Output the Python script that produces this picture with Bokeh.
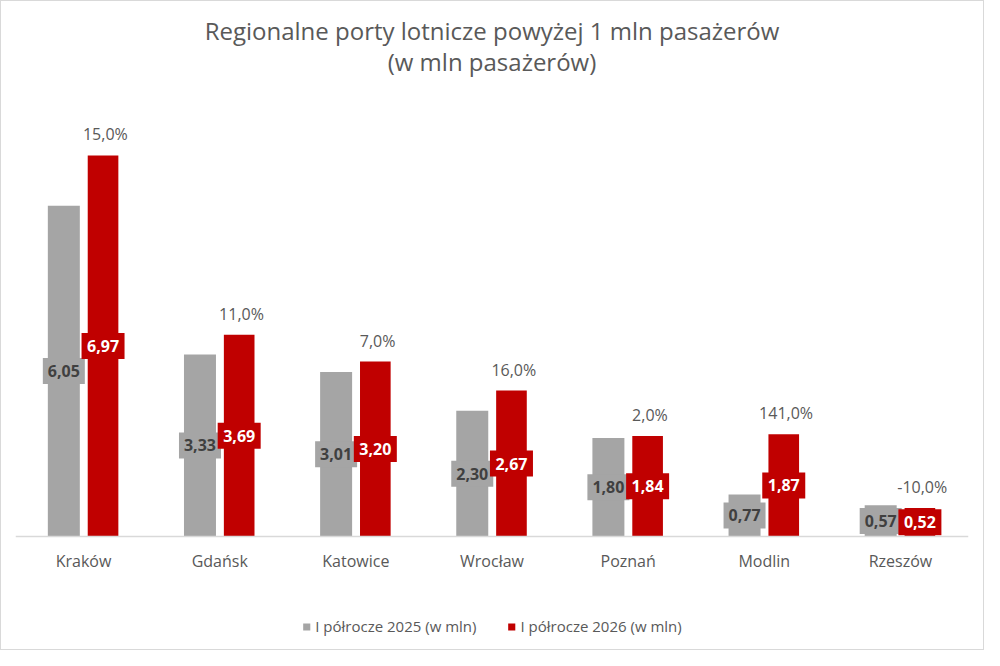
from bokeh.plotting import figure
from bokeh.models import ColumnDataSource, FactorRange, Range1d, Legend, LegendItem, Label
from bokeh.core.properties import value
from bokeh.transform import dodge
from bokeh.embed import file_html
from bokeh.resources import INLINE

cities = ["Kraków", "Gdańsk", "Katowice", "Wrocław", "Poznań", "Modlin", "Rzeszów"]
h1_2025 = [6.05, 3.33, 3.01, 2.30, 1.80, 0.77, 0.57]
h1_2026 = [6.97, 3.69, 3.20, 2.67, 1.84, 1.87, 0.52]
growth = [15.0, 11.0, 7.0, 16.0, 2.0, 141.0, -10.0]
series_names = ["I półrocze 2025 (w mln)", "I półrocze 2026 (w mln)"]
title_lines = ["Regionalne porty lotnicze powyżej 1 mln pasażerów", "(w mln pasażerów)"]

GREY = "#A5A5A5"
RED = "#C00000"
TXT = "#595959"
FONT = "Open Sans"

def fmt(v, d=2):
    return f"{v:.{d}f}".replace(".", ",")

src = ColumnDataSource(dict(
    city=cities,
    a=h1_2025,
    b=h1_2026,
    a_mid=[v / 2 for v in h1_2025],
    b_mid=[v / 2 for v in h1_2026],
    a_txt=[fmt(v) for v in h1_2025],
    b_txt=[fmt(v) for v in h1_2026],
    g_txt=[fmt(v, 1) + "%" for v in growth],
))

# layout constants (pixels): frame covers 0..640, baseline at 535, 54.67 px per unit
PX = 54.67
BASE = 535
p = figure(width=984, height=650, output_backend="svg", toolbar_location=None,
           x_range=FactorRange(*cities, range_padding=0, factor_padding=0),
           y_range=Range1d(-(640 - BASE) / PX, BASE / PX),
           min_border_left=14, min_border_right=17, min_border_top=0, min_border_bottom=10)
p.styles = {"border": "1px solid #D9D9D9", "box-sizing": "border-box"}
p.title.visible = False
for line, ypix in zip(title_lines, [29, 60]):
    p.add_layout(Label(x=len(cities) / 2, y=(BASE - ypix) / PX, text=line,
                       text_align="center", text_baseline="middle", text_font=FONT,
                       text_font_size="24px", text_color=TXT))

p.outline_line_color = None
p.grid.grid_line_color = None
p.yaxis.visible = False

xa = dodge("city", -0.145, range=p.x_range)
xb = dodge("city", 0.143, range=p.x_range)

ra = p.vbar(x=xa, top="a", width=0.235, source=src, fill_color=GREY, line_color=None)
rb = p.vbar(x=xb, top="b", width=0.225, source=src, fill_color=RED, line_color=None)

p.rect(x=xa, y="a_mid", width=42, height=26, width_units="screen", height_units="screen",
       source=src, fill_color=GREY, line_color=None)
p.text(x=xa, y="a_mid", text="a_txt", source=src, text_align="center", text_baseline="middle",
       text_font=value(FONT), text_font_size="16px", text_font_style="bold", text_color="#404040")
p.rect(x=xb, y="b_mid", width=43, height=26, width_units="screen", height_units="screen",
       source=src, fill_color=RED, line_color=None)
p.text(x=xb, y="b_mid", text="b_txt", source=src, text_align="center", text_baseline="middle",
       text_font=value(FONT), text_font_size="16px", text_font_style="bold", text_color="white")
p.text(x=dodge("city", 0.16, range=p.x_range), y="b", text="g_txt", source=src,
       text_align="center", text_baseline="middle", y_offset=-21,
       text_font=value(FONT), text_font_size="16px", text_color=TXT)

ax = p.xaxis[0]
ax.fixed_location = 0
ax.axis_line_color = "#D9D9D9"
ax.axis_line_width = 1.5
ax.major_tick_line_color = None
ax.minor_tick_line_color = None
ax.major_label_standoff = 7
ax.major_label_text_font = FONT
ax.major_label_text_font_size = "16px"
ax.major_label_text_color = TXT

legend = Legend(items=[LegendItem(label=series_names[0], renderers=[ra]),
                       LegendItem(label=series_names[1], renderers=[rb])],
                orientation="horizontal", location="bottom_center",
                label_text_font=FONT, label_text_font_size="15px", label_text_color=TXT,
                glyph_width=9, glyph_height=9, spacing=30, label_standoff=5,
                border_line_color=None, background_fill_alpha=0, margin=5, padding=0)
p.add_layout(legend, "center")

open("out.html", "w").write(file_html(p, INLINE))
